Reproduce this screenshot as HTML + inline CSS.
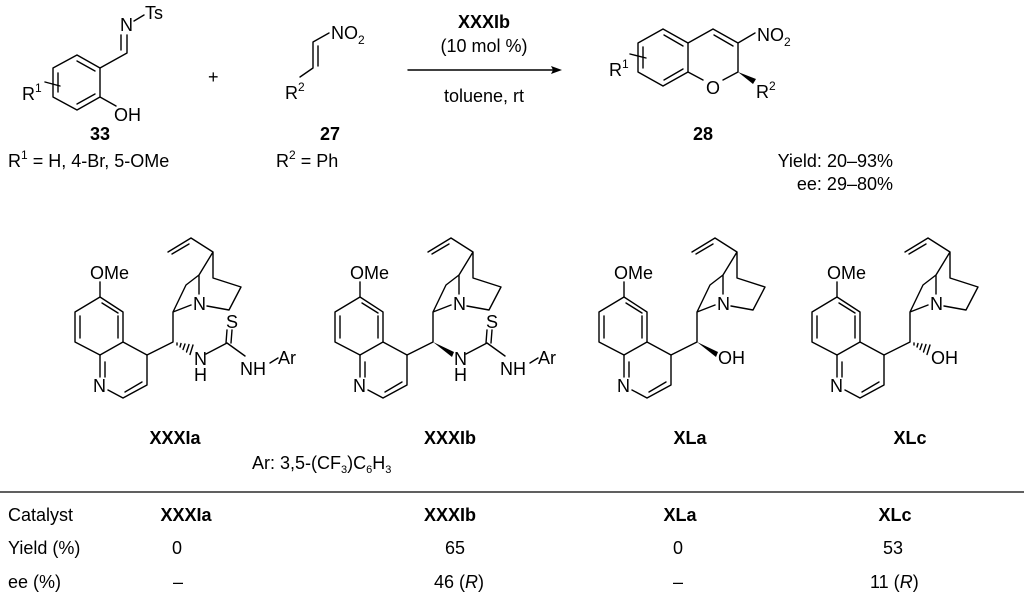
<!DOCTYPE html>
<html><head><meta charset="utf-8"><style>
html,body{margin:0;padding:0;background:#fff;}
svg{display:block;font-family:"Liberation Sans",Arial,sans-serif;}
.b{stroke:#000;stroke-width:1.4;fill:none;stroke-linecap:round;stroke-linejoin:round}
text{font-size:18px;fill:#000}
.bd{font-weight:bold}
</style></head><body>
<svg width="1024" height="594" viewBox="0 0 1024 594" xmlns="http://www.w3.org/2000/svg">
<defs>
<g id="core">
 <polygon class="b" points="-98,-30 -73,-45 -50,-30 -50,0 -73,13 -98,0"/>
 <path class="b" d="M-50,0 L-26,13 L-26,43 L-50,56 L-65,48 M-73,35 L-73,13"/>
 <path class="b" d="M-93,-26 L-93,-4 M-71,-39 L-55,-29 M-55,-26 L-55,-4 M-68,20 L-68,35 M-48,50 L-31,40"/>
 <path class="b" d="M-73,-45 L-73,-60"/>
 <path class="b" d="M-26,13 L0,0 L0,-30 L13,-57 L26,-67 L40,-90 M26,-67 L26,-48 M0,-30 L18,-37 M34,-36 L56,-32 L68,-55 L40,-64 L40,-90 L18,-104 L-5,-90 M16,-98 L-1,-88"/>
</g>
<g id="hash">
 <path class="b" d="M4,1 L4,3 M8,1.5 L7,5 M12,2 L10,7.5 M16,2.5 L13.5,10 M20,3 L17,12.5" stroke-width="1.1"/>
</g>
</defs>

<!-- compound 33 -->
<polygon class="b" points="53,68 77,55 100,68 100,97 77,110 53,97"/>
<path class="b" d="M77,61 L95,71 M95,94 L77,104 M58,73 L58,92"/>
<path class="b" d="M100,68 L127,53 L127,35 M121,50 L121,35 M134,21 L144,15 M100,97 L116,106 M45,82 L60,86"/>
<text x="120" y="31">N</text><text x="145" y="19">Ts</text>
<text x="114" y="121">OH</text>
<text x="22" y="100">R<tspan font-size="12" dy="-8">1</tspan></text>
<text class="bd" x="100" y="140" text-anchor="middle">33</text>
<text x="8" y="167">R<tspan font-size="12" dy="-8">1</tspan><tspan dy="8"> = H, 4-Br, 5-OMe</tspan></text>

<text x="208" y="83">+</text>

<!-- compound 27 -->
<path class="b" d="M329,33 L313,42 L313,68 L300,77 M318,46 L318,66"/>
<text x="331" y="39">NO<tspan font-size="12" dy="5">2</tspan></text>
<text x="285" y="99">R<tspan font-size="12" dy="-8">2</tspan></text>
<text class="bd" x="330" y="140" text-anchor="middle">27</text>
<text x="276" y="167">R<tspan font-size="12" dy="-8">2</tspan><tspan dy="8"> = Ph</tspan></text>

<!-- arrow -->
<path class="b" d="M408,70 L556,70"/>
<polygon points="562,70 551,66 553,70 551,74" fill="#000"/>
<text class="bd" x="484" y="28" text-anchor="middle" font-size="16">XXXIb</text>
<text x="484" y="52" text-anchor="middle" font-size="16">(10 mol %)</text>
<text x="484" y="102" text-anchor="middle" font-size="16">toluene, rt</text>

<!-- product 28 -->
<polygon class="b" points="638,43 663,29 688,43 688,72 663,86 638,72"/>
<path class="b" d="M643,47 L643,68 M664,35 L683,46 M664,80 L683,69"/>
<path class="b" d="M688,43 L713,29 L738,43 L738,72 L723,80 M703,80 L688,72 M714,35 L733,46 M738,43 L755,33 M630,54 L646,58"/>
<polygon points="738,72 756,79 753,84" fill="#000"/>
<text x="706" y="94">O</text>
<text x="757" y="41">NO<tspan font-size="12" dy="5">2</tspan></text>
<text x="756" y="98">R<tspan font-size="12" dy="-8">2</tspan></text>
<text x="609" y="76">R<tspan font-size="12" dy="-8">1</tspan></text>
<text class="bd" x="703" y="140" text-anchor="middle">28</text>
<text x="893" y="167" text-anchor="end" font-size="19">Yield: 20–93%</text>
<text x="893" y="190" text-anchor="end" font-size="19">ee: 29–80%</text>

<!-- catalysts -->
<g transform="translate(173,342)">
 <use href="#core"/>
 <use href="#hash"/>
 <path class="b" d="M33,12 L54,1 L72,14 M53,1 L54,-12 M58,1 L59,-12 M97,21 L105,16"/>
</g>
<g transform="translate(433,342)">
 <use href="#core"/>
 <polygon points="0,0 21,10 19,15" fill="#000"/>
 <path class="b" d="M33,12 L54,1 L72,14 M53,1 L54,-12 M58,1 L59,-12 M97,21 L105,16"/>
</g>
<g transform="translate(697,342)">
 <use href="#core"/>
 <polygon points="0,0 21,10 19,15" fill="#000"/>
</g>
<g transform="translate(910,342)">
 <use href="#core"/>
 <use href="#hash"/>
</g>

<!-- catalyst text labels -->
<g>
 <text x="90" y="279">OMe</text><text x="350" y="279">OMe</text><text x="614" y="279">OMe</text><text x="827" y="279">OMe</text>
 <text x="93" y="392">N</text><text x="353" y="392">N</text><text x="617" y="392">N</text><text x="830" y="392">N</text>
 <text x="193" y="310">N</text><text x="453" y="310">N</text><text x="717" y="310">N</text><text x="930" y="310">N</text>
 <text x="194" y="365">N</text><text x="194" y="381">H</text><text x="226" y="328">S</text>
 <text x="240" y="375">NH</text><text x="278" y="364">Ar</text>
 <text x="454" y="365">N</text><text x="454" y="381">H</text><text x="486" y="328">S</text>
 <text x="500" y="375">NH</text><text x="538" y="364">Ar</text>
 <text x="718" y="364">OH</text><text x="931" y="364">OH</text>
</g>
<text class="bd" x="175" y="444" text-anchor="middle">XXXIa</text>
<text class="bd" x="450" y="444" text-anchor="middle">XXXIb</text>
<text class="bd" x="690" y="444" text-anchor="middle">XLa</text>
<text class="bd" x="910" y="444" text-anchor="middle">XLc</text>
<text x="252" y="469" font-size="17">Ar: 3,5-(CF<tspan font-size="11" dy="4">3</tspan><tspan dy="-4">)C</tspan><tspan font-size="11" dy="4">6</tspan><tspan dy="-4">H</tspan><tspan font-size="11" dy="4">3</tspan></text>

<!-- table -->
<line x1="0" y1="492" x2="1024" y2="492" stroke="#000" stroke-width="1.2"/>
<text x="8" y="521" font-size="18.5">Catalyst</text>
<text class="bd" x="186" y="521" text-anchor="middle" font-size="18.5">XXXIa</text>
<text class="bd" x="450" y="521" text-anchor="middle" font-size="18.5">XXXIb</text>
<text class="bd" x="680" y="521" text-anchor="middle" font-size="18.5">XLa</text>
<text class="bd" x="895" y="521" text-anchor="middle" font-size="18.5">XLc</text>
<text x="8" y="554" font-size="18.5">Yield (%)</text>
<text x="177" y="554" text-anchor="middle" font-size="18.5">0</text>
<text x="455" y="554" text-anchor="middle" font-size="18.5">65</text>
<text x="678" y="554" text-anchor="middle" font-size="18.5">0</text>
<text x="893" y="554" text-anchor="middle" font-size="18.5">53</text>
<text x="8" y="588" font-size="18.5">ee (%)</text>
<text x="178" y="588" text-anchor="middle" font-size="18.5">–</text>
<text x="434" y="588" font-size="18.5">46 (<tspan font-style="italic">R</tspan>)</text>
<text x="678" y="588" text-anchor="middle" font-size="18.5">–</text>
<text x="870" y="588" font-size="18.5">11 (<tspan font-style="italic">R</tspan>)</text>
</svg>
</body></html>
